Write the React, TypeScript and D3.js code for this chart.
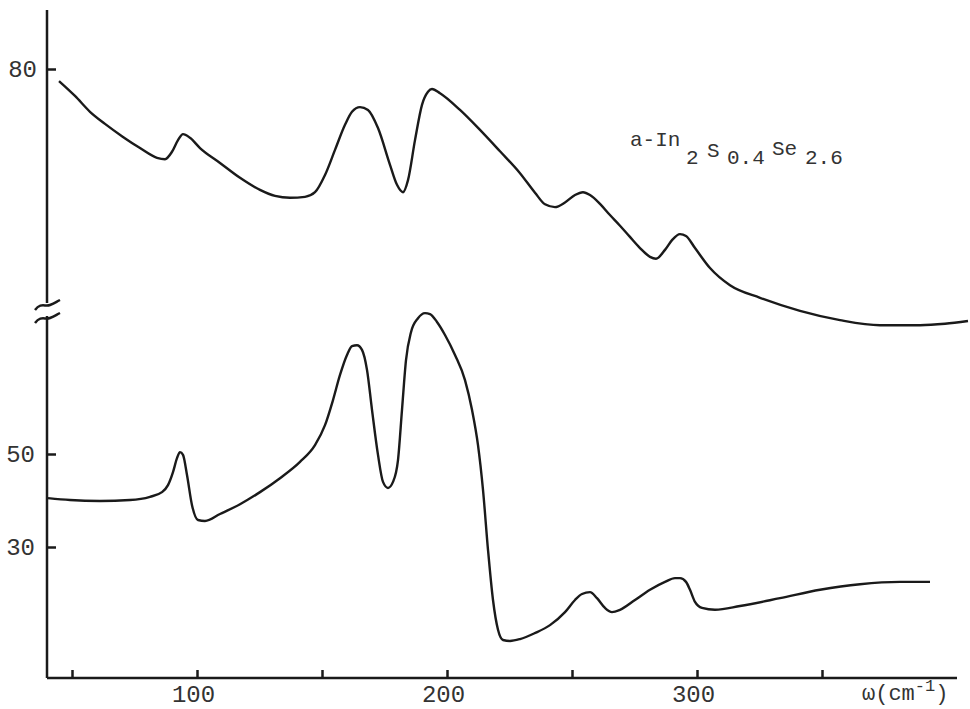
import React, { useRef, useEffect } from 'react';
import * as d3 from 'd3';

// Upper trace: a-In2S0.4Se2.6 (offset, broken axis)
const upperWavenumber = [
  44.8, 51.2, 57.2, 63.2, 70.4, 77.2, 84.0, 87.2, 90.0, 92.4, 94.4, 97.2, 101.2,
  109.2, 117.2, 125.2, 131.2, 137.2, 143.2, 147.2, 151.2, 155.2, 159.2, 162.0,
  165.2, 168.4, 172.4, 177.2, 180.0, 182.4, 184.4, 187.2, 190.0, 192.4, 194.0,
  197.2, 205.2, 213.2, 221.2, 229.2, 235.2, 239.2, 243.2, 247.2, 251.2, 254.4,
  257.2, 261.2, 265.0, 269.2, 273.0, 277.2, 281.2, 283.6, 287.2, 290.0, 293.2,
  295.6, 299.2, 305.2, 313.2, 325.2, 341.2, 357.2, 373.2, 389.2, 399.2, 408.4,
];
const upperSignal = [
  77.4, 74.2, 70.8, 68.2, 65.4, 63.0, 60.9, 60.6, 62.2, 64.7, 66.0, 65.2, 63.0,
  59.8, 56.6, 54.0, 52.7, 52.3, 52.5, 53.5, 57.2, 62.6, 68.0, 70.8,
  71.8, 71.2, 67.3, 59.4, 55.1, 53.5, 56.1, 64.7, 72.3, 75.1, 75.7,
  74.8, 71.2, 66.9, 62.3, 57.6, 53.4, 50.9, 50.3, 51.3, 52.9, 53.5,
  52.9, 51.0, 48.7, 46.3, 44.0, 41.5, 39.6, 39.2, 41.1, 43.2, 44.5,
  44.1, 41.5, 37.2, 33.5, 30.8, 28.0, 26.0, 24.9, 24.9, 25.2, 25.8,
];

// Lower trace
const lowerWavenumber = [
  40.4, 49.2, 61.2, 73.2, 81.2, 86.0, 88.4, 90.4, 92.0, 93.2, 94.4, 96.0, 98.0,
  100.4, 103.2, 109.2, 117.2, 125.2, 133.2, 141.2, 147.2, 151.2, 154.4, 157.2,
  160.0, 162.0, 164.0, 166.0, 168.0, 170.0, 172.4, 174.4, 176.4, 178.4, 180.4,
  182.0, 183.6, 185.6, 188.4, 191.2, 193.2, 196.0, 199.2, 203.2, 207.2, 210.0,
  212.4, 214.4, 216.4, 218.4, 220.4, 222.4, 225.2, 229.2, 235.2, 241.2, 247.2,
  251.2, 254.0, 257.2, 260.0, 263.2, 266.0, 269.2, 275.2, 281.2, 287.2, 291.2,
  293.2, 295.6, 297.2, 299.2, 302.0, 307.2, 317.2, 333.2, 349.2, 365.2, 381.2, 393.2,
];
const lowerSignal = [
  40.5, 40.1, 39.9, 40.1, 40.8, 41.8, 43.3, 46.1, 49.1, 50.4, 49.8, 45.5, 39.0,
  35.8, 35.6, 37.1, 39.2, 41.8, 44.8, 48.3, 51.9, 56.2, 61.6, 67.0,
  71.3, 73.2, 73.4, 72.4, 68.1, 59.5, 49.8, 44.0, 42.7, 44.0, 48.7,
  59.5, 70.2, 76.2, 79.2, 80.3, 80.1, 78.4, 75.6, 71.3, 65.9, 59.5,
  51.9, 42.3, 29.4, 18.6, 12.2, 10.0, 9.8, 10.2, 11.5, 13.2, 16.0,
  18.6, 19.9, 20.3, 19.0, 16.9, 16.0, 16.5, 18.6, 20.8, 22.5, 23.3,
  23.3, 22.5, 20.8, 18.2, 16.9, 16.5, 17.3, 19.0, 20.8, 22.0, 22.5, 22.5,
];

const xTicks = [50, 100, 150, 200, 250, 300, 350];
const xTickLabels = [100, 200, 300];
const upperYTicks = [80];
const lowerYTicks = [50, 30];

const FONT = '"Liberation Mono", "DejaVu Sans Mono", monospace';
const INK = '#1a1a1a';

const App = () => {
  const ref = useRef<SVGSVGElement>(null);
  const width = 970;
  const height = 709;

  useEffect(() => {
    const svg = d3.select(ref.current);
    svg.selectAll('*').remove();

    const axisX = 47;
    const axisY = 678;

    const x = d3.scaleLinear().domain([50, 350]).range([72, 822]);
    const yUpper = d3.scaleLinear().domain([60, 80]).range([162, 69]);
    const yLower = d3.scaleLinear().domain([30, 50]).range([547, 454]);

    // axis lines (y axis is broken)
    svg.append('line')
      .attr('x1', axisX).attr('x2', axisX)
      .attr('y1', 10).attr('y2', 303)
      .attr('stroke', INK).attr('stroke-width', 2.5);
    svg.append('line')
      .attr('x1', axisX).attr('x2', axisX)
      .attr('y1', 316).attr('y2', axisY)
      .attr('stroke', INK).attr('stroke-width', 2.5);
    svg.append('line')
      .attr('x1', axisX).attr('x2', 957)
      .attr('y1', axisY).attr('y2', axisY)
      .attr('stroke', INK).attr('stroke-width', 2.5);

    // break marks
    [306, 319].forEach(yb => {
      svg.append('path')
        .attr('d', `M35,${yb + 4} C41,${yb - 4} 45,${yb + 1} 50,${yb - 1} S56,${yb - 4} 60,${yb - 6}`)
        .attr('fill', 'none')
        .attr('stroke', INK)
        .attr('stroke-width', 2.5);
    });

    const styleAxis = (g) => {
      g.select('.domain').remove();
      g.selectAll('line').attr('stroke', INK).attr('stroke-width', 2.5);
      g.selectAll('text')
        .attr('font-family', FONT)
        .attr('font-size', 24)
        .attr('fill', '#333');
    };

    // y axes ticks
    svg.append('g')
      .attr('transform', `translate(${axisX},0)`)
      .call(d3.axisLeft(yUpper).tickValues(upperYTicks).tickSize(-9).tickPadding(10))
      .call(styleAxis);

    svg.append('g')
      .attr('transform', `translate(${axisX},0)`)
      .call(d3.axisLeft(yLower).tickValues(lowerYTicks).tickSize(-9).tickPadding(12))
      .call(styleAxis);

    // x axis ticks
    svg.append('g')
      .attr('transform', `translate(0,${axisY})`)
      .call(
        d3.axisBottom(x)
          .tickValues(xTicks)
          .tickSize(-8)
          .tickPadding(7)
          .tickFormat(d => (xTickLabels.includes(d as number) ? String(d) : ''))
      )
      .call(styleAxis)
      .selectAll('text')
      .attr('dx', -4);

    // axis title
    const xt = svg.append('text')
      .attr('x', 862)
      .attr('y', 700)
      .attr('font-family', FONT)
      .attr('font-size', 22)
      .attr('fill', '#333');
    xt.append('tspan').text('ω(cm');
    xt.append('tspan').attr('font-size', 17).attr('dy', -9).text('-1');
    xt.append('tspan').attr('dy', 9).text(')');

    // curves
    const upperPts = upperWavenumber.map((w, i) => [w, upperSignal[i]] as [number, number]);
    const lowerPts = lowerWavenumber.map((w, i) => [w, lowerSignal[i]] as [number, number]);

    svg.append('path')
      .datum(upperPts)
      .attr('fill', 'none')
      .attr('stroke', INK)
      .attr('stroke-width', 2.4)
      .attr('stroke-linejoin', 'round')
      .attr('d', d3.line<[number, number]>()
        .x(d => x(d[0]))
        .y(d => yUpper(d[1]))
        .curve(d3.curveMonotoneX));

    svg.append('path')
      .datum(lowerPts)
      .attr('fill', 'none')
      .attr('stroke', INK)
      .attr('stroke-width', 2.4)
      .attr('stroke-linejoin', 'round')
      .attr('d', d3.line<[number, number]>()
        .x(d => x(d[0]))
        .y(d => yLower(d[1]))
        .curve(d3.curveMonotoneX));

    // sample label
    const parts = [
      { t: 'a-In', x: 630, y: 146 },
      { t: '2', x: 686, y: 164 },
      { t: 'S', x: 707, y: 157 },
      { t: '0.4', x: 727, y: 164 },
      { t: 'Se', x: 772, y: 155 },
      { t: '2.6', x: 805, y: 164 },
    ];
    const lbl = svg.append('text')
      .attr('font-family', FONT)
      .attr('font-size', 21)
      .attr('fill', '#333');
    parts.forEach(p => {
      lbl.append('tspan').attr('x', p.x).attr('y', p.y).text(p.t);
    });
  }, []);

  return (
    <svg
      ref={ref}
      width={width}
      height={height}
      style={{ position: 'absolute', left: 0, top: 0, background: '#fff' }}
    />
  );
};

export default App;
